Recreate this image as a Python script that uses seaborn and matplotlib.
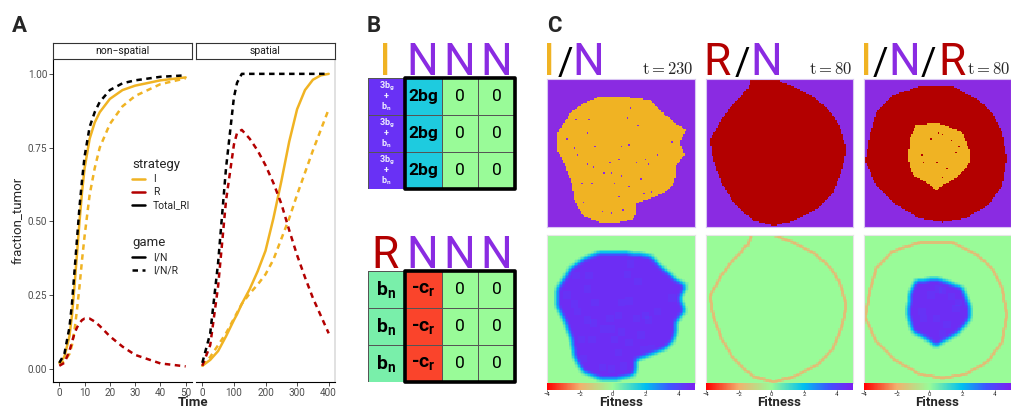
import numpy as np
import pandas as pd
import matplotlib
matplotlib.use("Agg")
import matplotlib.pyplot as plt
import seaborn as sns
from matplotlib.path import Path
from matplotlib.colors import LinearSegmentedColormap, ListedColormap
from matplotlib.lines import Line2D
from matplotlib.patches import Rectangle

sns.set_theme(style="white")
plt.rcParams['font.family'] = ['Roboto', 'DejaVu Sans']
plt.rcParams['mathtext.fontset'] = 'custom'
plt.rcParams['mathtext.rm'] = 'Roboto'
plt.rcParams['mathtext.it'] = 'Roboto:italic'
plt.rcParams['mathtext.bf'] = 'Roboto:bold'

# ---------------- data: panel A (fraction of tumour over time) ----------------
t_ns = [0, 2, 4, 5, 6, 7, 8, 9, 10, 12, 14, 16, 20, 25, 30, 40, 50]
ns_I_IN = [0.02, 0.04, 0.11, 0.18, 0.28, 0.39, 0.50, 0.60, 0.68, 0.78, 0.835, 0.87, 0.915, 0.945, 0.96, 0.978, 0.988]
ns_I_INR = [0.015, 0.025, 0.05, 0.08, 0.13, 0.20, 0.28, 0.37, 0.45, 0.59, 0.68, 0.75, 0.83, 0.89, 0.925, 0.965, 0.985]
ns_R_INR = [0.01, 0.02, 0.06, 0.09, 0.12, 0.14, 0.155, 0.165, 0.17, 0.17, 0.16, 0.145, 0.11, 0.075, 0.047, 0.018, 0.008]
ns_tot_INR = [0.02, 0.05, 0.14, 0.22, 0.33, 0.44, 0.55, 0.64, 0.72, 0.82, 0.87, 0.905, 0.945, 0.968, 0.978, 0.99, 0.995]

t_sp = [0, 25, 50, 75, 100, 110, 125, 150, 175, 200, 225, 250, 275, 300, 325, 350, 375, 400]
sp_I_IN = [0.01, 0.03, 0.06, 0.11, 0.165, 0.185, 0.22, 0.27, 0.33, 0.40, 0.51, 0.635, 0.77, 0.88, 0.945, 0.98, 0.995, 1.0]
sp_I_INR = [0.01, 0.04, 0.08, 0.12, 0.17, 0.19, 0.22, 0.255, 0.285, 0.32, 0.37, 0.44, 0.51, 0.59, 0.665, 0.74, 0.81, 0.88]
sp_R_INR = [0.01, 0.08, 0.28, 0.57, 0.76, 0.80, 0.81, 0.78, 0.74, 0.69, 0.63, 0.56, 0.47, 0.385, 0.31, 0.24, 0.18, 0.12]
sp_tot_INR = [0.02, 0.12, 0.36, 0.68, 0.92, 0.97, 1.0, 1.0, 1.0, 1.0, 1.0, 1.0, 1.0, 1.0, 1.0, 1.0, 1.0, 1.0]

strategies = ['I', 'R', 'Total_RI']
games = ['I/N', 'I/N/R']
pal = {'I': '#F0B323', 'R': '#B30000', 'Total_RI': '#000000'}

# ---------------- data: panel B (payoff tables) ----------------
top_vals = np.array([[4.5, 1.6, 0, 0]] * 3)
top_text = [["$\\mathbf{3b_g}$\n+\n$\\mathbf{b_n}$", "2bg", "0", "0"]] * 3
bot_vals = np.array([[0.4, -3.2, 0, 0]] * 3)
bot_text = [["$\\mathbf{b_n}$", "-$\\mathbf{c_r}$", "0", "0"]] * 3

# ---------------- data: panel C (simulated tumours, outlines in unit square) ----------------
in_I_outline = [(0.356, 0.12), (0.514, 0.12), (0.694, 0.14), (0.78, 0.22), (0.85, 0.29), (0.94, 0.345),
                (0.896, 0.424), (0.93, 0.515), (0.874, 0.582), (0.862, 0.695), (0.806, 0.763), (0.694, 0.808),
                (0.604, 0.842), (0.592, 0.943), (0.49, 0.966), (0.356, 0.966), (0.243, 0.921), (0.187, 0.83),
                (0.164, 0.695), (0.12, 0.58), (0.074, 0.49), (0.074, 0.357), (0.12, 0.29), (0.164, 0.22),
                (0.243, 0.165)]
in_holes = [(0.29, 0.27), (0.56, 0.19), (0.61, 0.31), (0.27, 0.36), (0.32, 0.45), (0.50, 0.45), (0.55, 0.44),
            (0.18, 0.46), (0.13, 0.40), (0.20, 0.51), (0.27, 0.58), (0.31, 0.59), (0.42, 0.57), (0.48, 0.54),
            (0.60, 0.57), (0.66, 0.54), (0.74, 0.51), (0.84, 0.42), (0.38, 0.63), (0.43, 0.63), (0.50, 0.65),
            (0.63, 0.67), (0.68, 0.58), (0.23, 0.70), (0.30, 0.70), (0.45, 0.70), (0.55, 0.72), (0.70, 0.76),
            (0.65, 0.77), (0.48, 0.79), (0.37, 0.89), (0.43, 0.90), (0.51, 0.88), (0.24, 0.83), (0.54, 0.26),
            (0.19, 0.27)]
rn_R_outline = [(0.31, 0.0), (0.46, 0.0), (0.59, 0.05), (0.73, 0.12), (0.84, 0.21), (0.91, 0.32), (0.955, 0.48),
                (0.92, 0.63), (0.865, 0.77), (0.75, 0.88), (0.59, 0.96), (0.46, 0.99), (0.32, 0.955),
                (0.19, 0.84), (0.11, 0.71), (0.05, 0.55), (0.03, 0.41), (0.10, 0.28), (0.165, 0.19),
                (0.23, 0.12), (0.29, 0.06)]
inr_R_outline = [(0.38, 0.05), (0.60, 0.05), (0.76, 0.13), (0.87, 0.22), (0.94, 0.36), (0.97, 0.54),
                 (0.94, 0.72), (0.85, 0.85), (0.69, 0.94), (0.535, 0.966), (0.38, 0.94), (0.22, 0.85),
                 (0.085, 0.72), (0.01, 0.56), (0.04, 0.38), (0.085, 0.22), (0.2, 0.11)]
inr_I_outline = [(0.355, 0.31), (0.51, 0.30), (0.67, 0.36), (0.715, 0.47), (0.725, 0.56), (0.65, 0.65),
                 (0.535, 0.72), (0.49, 0.75), (0.42, 0.695), (0.33, 0.65), (0.30, 0.54), (0.31, 0.40)]
inr_holes = [(0.50, 0.36), (0.53, 0.37), (0.59, 0.41), (0.64, 0.45), (0.39, 0.51), (0.40, 0.57), (0.49, 0.56),
             (0.56, 0.60), (0.62, 0.49), (0.53, 0.66), (0.45, 0.40)]
c_titles = [[('I', '#F0B323'), ('/', 'black'), ('N', '#8A2BE2')],
            [('R', '#B30000'), ('/', 'black'), ('N', '#8A2BE2')],
            [('I', '#F0B323'), ('/', 'black'), ('N', '#8A2BE2'), ('/', 'black'), ('R', '#B30000')]]
c_times = ['230', '80', '80']

fit_values = [-4, -2, 0, 2, 3.5, 5]
fit_colors = ['#FF0000', '#F2B06E', '#98FB98', '#00BFF0', '#3F55FF', '#7D1FF0']
fit_cmap = LinearSegmentedColormap.from_list(
    'fitness', [((v + 4) / 9, c) for v, c in zip(fit_values, fit_colors)])
cell_cmap = ListedColormap(['#8A2BE2', '#F0B323', '#B30000'])

W, H = 1011, 409
fig = plt.figure(figsize=(W / 100, H / 100), dpi=100)


def rect(x0, y0, x1, y1):
    return [x0 / W, 1 - y1 / H, (x1 - x0) / W, (y1 - y0) / H]


def put(px, py, s, **kw):
    return fig.text(px / W, 1 - py / H, s, **kw)


# ---------------- panel A ----------------
def long(setting, t, strategy, game, vals):
    return pd.DataFrame({'setting': setting, 'Time': t, 'fraction_tumor': vals,
                         'strategy': strategy, 'game': game})


df_a = pd.concat([
    long('non-spatial', t_ns, 'I', 'I/N', ns_I_IN),
    long('non-spatial', t_ns, 'I', 'I/N/R', ns_I_INR),
    long('non-spatial', t_ns, 'R', 'I/N/R', ns_R_INR),
    long('non-spatial', t_ns, 'Total_RI', 'I/N/R', ns_tot_INR),
    long('spatial', t_sp, 'I', 'I/N', sp_I_IN),
    long('spatial', t_sp, 'I', 'I/N/R', sp_I_INR),
    long('spatial', t_sp, 'R', 'I/N/R', sp_R_INR),
    long('spatial', t_sp, 'Total_RI', 'I/N/R', sp_tot_INR),
], ignore_index=True)

dash = (2.2, 1.8)
axA1 = fig.add_axes(rect(53, 60, 192, 382))
axA2 = fig.add_axes(rect(196, 60, 335, 382))
panels = [(axA1, 'non-spatial', (-2.5, 52.5), [0, 10, 20, 30, 40, 50]),
          (axA2, 'spatial', (-20, 420), [0, 100, 200, 300, 400])]
for ax, setting, xlim, xt in panels:
    sub = df_a[df_a['setting'] == setting]
    sns.lineplot(data=sub, x='Time', y='fraction_tumor', hue='strategy', style='game',
                 hue_order=strategies, style_order=games, palette=pal,
                 dashes={'I/N': '', 'I/N/R': dash}, linewidth=1.8, estimator=None,
                 legend=False, ax=ax)
    ax.set_xlim(xlim)
    ax.set_ylim(-0.045, 1.047)
    ax.set_xticks(xt)
    ax.set_yticks([0, 0.25, 0.5, 0.75, 1.0])
    ax.set_yticklabels(['0.00', '0.25', '0.50', '0.75', '1.00'])
    ax.set_xlabel('')
    ax.set_ylabel('')
    ax.tick_params(bottom=True, left=True, direction='out', length=3, width=0.6, color='#333333',
                   labelsize=7.2, labelcolor='#4D4D4D', pad=1)
    for s in ['top', 'right']:
        ax.spines[s].set_visible(False)
    ax.spines['bottom'].set_color('black')
    ax.spines['bottom'].set_linewidth(0.8)
    ax.spines['left'].set_color('black')
    ax.spines['left'].set_linewidth(0.8)

axA2.tick_params(left=False, labelleft=False)
axA2.spines['left'].set_visible(False)
axA2.spines['right'].set_visible(True)
axA2.spines['right'].set_color('#DDDDDD')

for (x0, x1), lab in [((53, 192), 'non\u2212spatial'), ((196, 335), 'spatial')]:
    sax = fig.add_axes(rect(x0, 43, x1, 59))
    sax.set_xticks([])
    sax.set_yticks([])
    for s in sax.spines.values():
        s.set_color('#333333')
        s.set_linewidth(0.8)
    sax.text(0.5, 0.48, lab, ha='center', va='center', fontsize=7.5, color='#1A1A1A',
             transform=sax.transAxes)

put(18, 220, 'fraction_tumor', rotation=90, ha='center', va='center', fontsize=9.5)
put(193, 403, 'Time', ha='center', va='center', fontsize=9.5, weight='bold')

strat_handles = [Line2D([], [], color=pal[s], lw=1.8) for s in strategies]
leg1 = axA1.legend(strat_handles, strategies, title='strategy', loc='upper left',
                   bbox_to_anchor=(127 / W, 1 - 153 / H), bbox_transform=fig.transFigure,
                   frameon=False, fontsize=7.5, title_fontsize=9.5, handlelength=1.2,
                   handletextpad=0.8, labelspacing=0.3, alignment='left', borderpad=0)
axA1.add_artist(leg1)
game_handles = [Line2D([], [], color='black', lw=1.8),
                Line2D([], [], color='black', lw=1.8, dashes=dash)]
leg2 = axA1.legend(game_handles, games, title='game', loc='upper left',
                   bbox_to_anchor=(127 / W, 1 - 231 / H), bbox_transform=fig.transFigure,
                   frameon=False, fontsize=7.5, title_fontsize=9.5, handlelength=1.2,
                   handletextpad=0.8, labelspacing=0.3, alignment='left', borderpad=0)

# ---------------- panel B ----------------
col_x = [385.5, 422, 459.5, 496.5]
for (y0, y1), vals, texts, head, base in [
        ((78, 189), top_vals, top_text, [('I', '#F0B323'), ('N', '#8A2BE2'), ('N', '#8A2BE2'), ('N', '#8A2BE2')], 75),
        ((271, 382), bot_vals, bot_text, [('R', '#B30000'), ('N', '#8A2BE2'), ('N', '#8A2BE2'), ('N', '#8A2BE2')], 268)]:
    ax = fig.add_axes(rect(368, y0, 515, y1))
    sns.heatmap(vals, ax=ax, cmap=fit_cmap, vmin=-4, vmax=5, annot=np.array(texts), fmt='',
                cbar=False, linewidths=0.7, linecolor='#555555', xticklabels=False, yticklabels=False,
                annot_kws={'fontsize': 12, 'color': 'black'})
    for txt in ax.texts:
        s = txt.get_text()
        if s.startswith('$\\mathbf{3b'):
            txt.set_fontsize(6.5)
            txt.set_color('#EEEEFF')
            txt.set_weight('bold')
            txt.set_linespacing(0.95)
        elif s == '2bg':
            txt.set_weight('bold')
            txt.set_fontsize(12.5)
        elif s == '0':
            txt.set_fontsize(12.5)
        else:
            txt.set_fontsize(14)
            txt.set_weight('bold')
    ax.add_patch(Rectangle((1, 0), 3, 3, fill=False, lw=2.6, ec='black', clip_on=False,
                           joinstyle='round'))
    for (ch, colr), cx in zip(head, col_x):
        put(cx, base, ch, ha='center', va='baseline', fontsize=32, color=colr)

put(367, 32, 'B', ha='left', va='baseline', fontsize=16, weight='bold')
put(12, 32, 'A', ha='left', va='baseline', fontsize=16, weight='bold')
put(547, 32, 'C', ha='left', va='baseline', fontsize=16, weight='bold')

# ---------------- panel C ----------------
N_GRID = 100
yy, xx = np.mgrid[0:N_GRID, 0:N_GRID]
pts = np.column_stack([(xx.ravel() + 0.5) / N_GRID, (yy.ravel() + 0.5) / N_GRID])


def blob(outline):
    return Path(outline).contains_points(pts).reshape(N_GRID, N_GRID)


def punch(mask, dots):
    m = mask.copy()
    for x, y in dots:
        m[int(y * N_GRID), int(x * N_GRID)] = False
    return m


def box_blur(a, r):
    a = a.astype(float)
    p = np.pad(a, r, mode='edge')
    out = np.zeros_like(a)
    n = 2 * r + 1
    for dy in range(n):
        for dx in range(n):
            out += p[dy:dy + a.shape[0], dx:dx + a.shape[1]]
    return out / n ** 2


def border(mask):
    # negative fitness on both sides of the R / N interface
    e = box_blur(mask, 1)
    return -7 * e * (1 - e)


in_I = punch(blob(in_I_outline), in_holes)
rn_R = blob(rn_R_outline)
inr_R = blob(inr_R_outline)
inr_I = punch(blob(inr_I_outline), inr_holes)

cells = [in_I.astype(int),
         rn_R.astype(int) * 2,
         np.where(inr_I, 1, np.where(inr_R, 2, 0))]
fitness = [4.6 * box_blur(in_I, 2),
           border(rn_R),
           4.6 * box_blur(inr_I, 2) + border(inr_R)]

c_cols = [(547, 695), (706, 853), (864, 1011)]
for i, (x0, x1) in enumerate(c_cols):
    ax = fig.add_axes(rect(x0, 79, x1, 227))
    sns.heatmap(cells[i], ax=ax, cmap=cell_cmap, vmin=-0.5, vmax=2.5, cbar=False,
                xticklabels=False, yticklabels=False)
    for s in ax.spines.values():
        s.set_visible(True)
        s.set_color('#D9C6F2')
        s.set_linewidth(0.8)

    ax = fig.add_axes(rect(x0, 235, x1, 383))
    cax = fig.add_axes(rect(x0, 383, x1, 390))
    sns.heatmap(fitness[i], ax=ax, cmap=fit_cmap, vmin=-4, vmax=5, cbar_ax=cax,
                cbar_kws={'orientation': 'horizontal', 'ticks': [-4, -2, 0, 2, 4]},
                xticklabels=False, yticklabels=False)
    for s in ax.spines.values():
        s.set_visible(True)
        s.set_color('#E6E6E6')
        s.set_linewidth(0.8)
    cax.tick_params(bottom=True, length=1.5, width=0.5, labelsize=4.3, pad=0.3, color='#333333')
    put((x0 + x1) / 2, 402.5, 'Fitness', ha='center', va='center', fontsize=9.5, weight='bold')

# panel C titles
c_title_x = [[549.5, 565, 588], [717.5, 742, 766], [866, 880, 904.5, 928, 952.5]]
for parts, xs in zip(c_titles, c_title_x):
    for (ch, colr), cx in zip(parts, xs):
        size = 27 if ch == '/' else 32
        put(cx, 75, ch, ha='center', va='baseline', fontsize=size, color=colr)
for t, (x0, x1) in zip(c_times, c_cols):
    put(x1 - 1, 74, r'$\mathrm{t}=' + t + '$', ha='right', va='baseline', fontsize=12,
        math_fontfamily='cm')

fig.savefig('out.png', dpi=100)
